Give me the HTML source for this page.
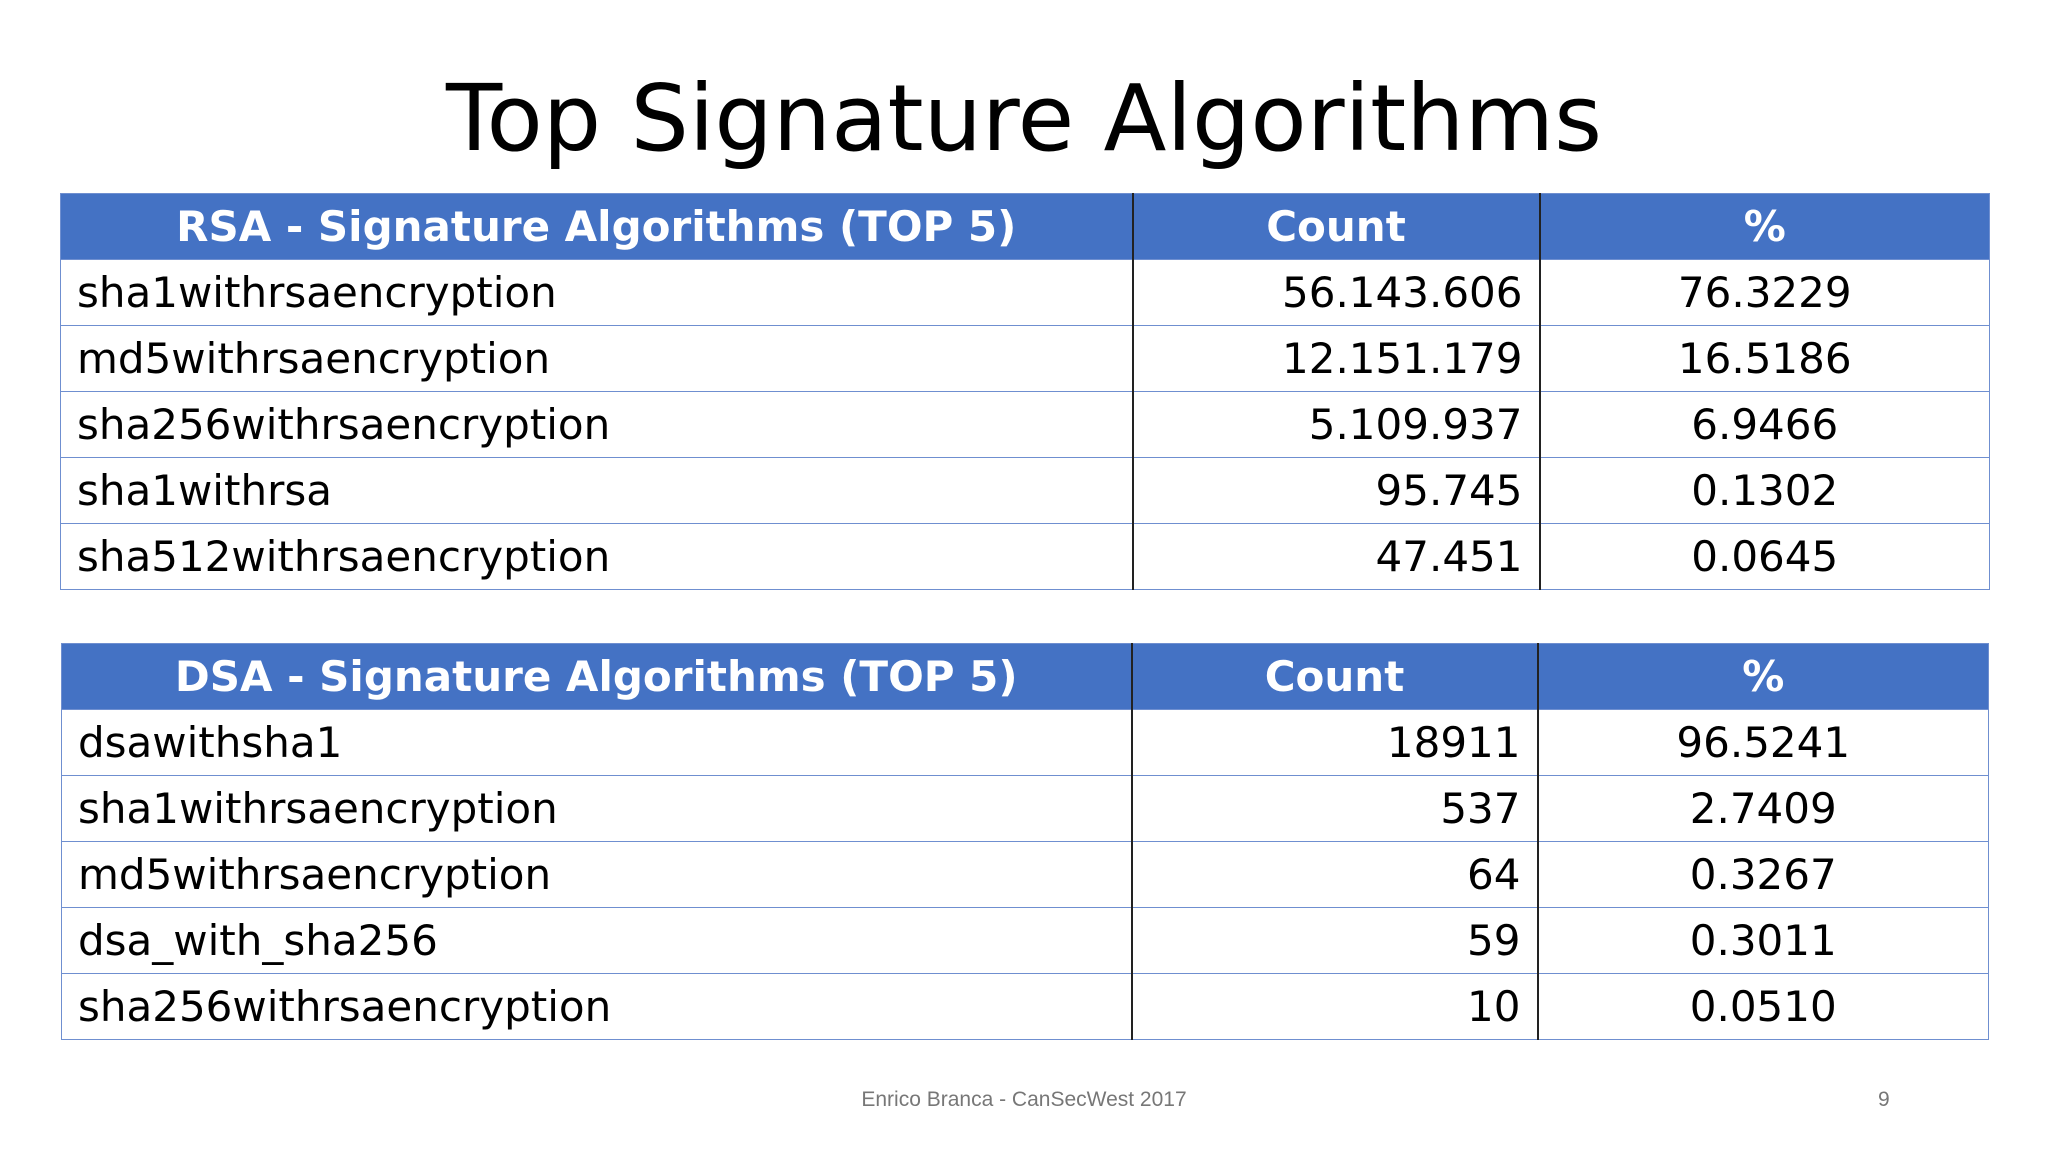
<!DOCTYPE html>
<html><head><meta charset="utf-8"><style>
body{margin:0;width:2048px;height:1152px;background:#fff;position:relative;overflow:hidden;font-family:"DejaVu Sans","Liberation Sans",sans-serif;}
h1{position:absolute;left:0;width:2048px;top:64px;margin:0;text-align:center;font-weight:normal;font-size:92px;line-height:110px;color:#000;}
table{position:absolute;border-collapse:collapse;table-layout:fixed;font-size:42px;}
td,th{height:65px;padding:0 16px;border:1.5px solid #6f8fd0;white-space:nowrap;overflow:hidden;}
th{background:#4472c4;color:#fff;font-weight:bold;text-align:center;}
td.c{text-align:right;}
td.p{text-align:center;}
.v{border-left:2px solid #222;}
.foot{position:absolute;top:1088px;font-family:"Liberation Sans",sans-serif;font-size:21px;color:#777;}
</style></head><body>
<h1>Top Signature Algorithms</h1>
<table style="left:60px;top:193px;width:1929px">
<colgroup><col style="width:1072px"><col style="width:407px"><col style="width:450px"></colgroup>
<tr><th>RSA - Signature Algorithms (TOP 5)</th><th class="v">Count</th><th class="v">%</th></tr>
<tr><td>sha1withrsaencryption</td><td class="c v">56.143.606</td><td class="p v">76.3229</td></tr>
<tr><td>md5withrsaencryption</td><td class="c v">12.151.179</td><td class="p v">16.5186</td></tr>
<tr><td>sha256withrsaencryption</td><td class="c v">5.109.937</td><td class="p v">6.9466</td></tr>
<tr><td>sha1withrsa</td><td class="c v">95.745</td><td class="p v">0.1302</td></tr>
<tr><td>sha512withrsaencryption</td><td class="c v">47.451</td><td class="p v">0.0645</td></tr>
</table>
<table style="left:61px;top:643px;width:1927px">
<colgroup><col style="width:1070px"><col style="width:406px"><col style="width:451px"></colgroup>
<tr><th>DSA - Signature Algorithms (TOP 5)</th><th class="v">Count</th><th class="v">%</th></tr>
<tr><td>dsawithsha1</td><td class="c v">18911</td><td class="p v">96.5241</td></tr>
<tr><td>sha1withrsaencryption</td><td class="c v">537</td><td class="p v">2.7409</td></tr>
<tr><td>md5withrsaencryption</td><td class="c v">64</td><td class="p v">0.3267</td></tr>
<tr><td>dsa_with_sha256</td><td class="c v">59</td><td class="p v">0.3011</td></tr>
<tr><td>sha256withrsaencryption</td><td class="c v">10</td><td class="p v">0.0510</td></tr>
</table>
<div class="foot" style="left:0;width:2048px;text-align:center">Enrico Branca - CanSecWest 2017</div>
<div class="foot" style="left:1878px">9</div>
</body></html>
